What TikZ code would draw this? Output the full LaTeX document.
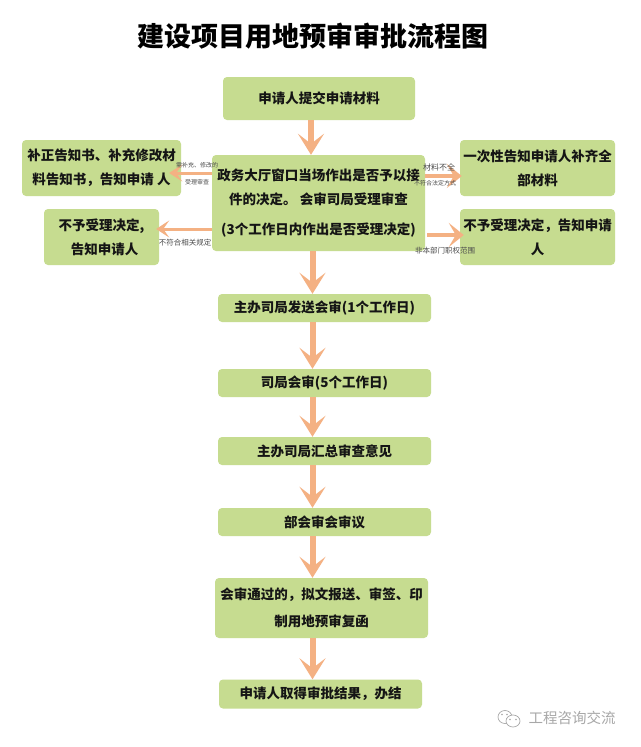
\documentclass[tikz,border=0pt]{standalone}
\usepackage{fontspec}
\setmainfont{Noto Sans CJK SC}
\usetikzlibrary{arrows.meta}
\definecolor{boxgreen}{HTML}{C6DC90}
\definecolor{floworange}{HTML}{F4B183}
\definecolor{inkblack}{HTML}{151515}
\definecolor{markgray}{HTML}{A8A8A8}
\tikzset{
  x=1pt,y=-1pt,
  greenbox/.style={fill=boxgreen,rounded corners=4pt,inner sep=0pt,align=center,text=inkblack,font=\fontsize{13.5}{27}\selectfont\bfseries},
  flow/.style={draw=floworange,line width=6pt,-{Stealth[length=21pt,width=26pt,inset=10pt,fill=floworange]}},
  sideflow/.style={draw=floworange,line width=3pt,-{Stealth[length=13pt,width=17pt,inset=6pt,fill=floworange]}},
  sidebig/.style={draw=floworange,line width=4pt,-{Stealth[length=15pt,width=24pt,inset=7pt,fill=floworange]}},
  tinylabel/.style={text=black!70,inner sep=0pt,font=\fontsize{6}{7}\selectfont},
  smalllabel/.style={text=black!70,inner sep=0pt,font=\fontsize{7.5}{9}\selectfont},
  bar/.style={greenbox,minimum width=213pt,minimum height=28pt},
}
\begin{document}
\begin{tikzpicture}
\useasboundingbox (0,0) rectangle (640,747);
\fill[white] (0,0) rectangle (640,747);
\node[inner sep=0pt,text=black,font=\fontsize{27}{30}\selectfont\bfseries] (title) at (313,36) {建设项目用地预审审批流程图};

\node[greenbox,minimum width=192pt,minimum height=43pt] (top) at (319,98.5) {申请人提交申请材料};
\node[greenbox,minimum width=213pt,minimum height=96pt,font=\fontsize{13.5}{24}\selectfont\bfseries] (main) at (318.5,203) {政务大厅窗口当场作出是否予以接\\件的决定。 会审司局受理审查\\[6pt](3个工作日内作出是否受理决定)};
\node[greenbox,minimum width=159pt,minimum height=56pt,font=\fontsize{13.5}{24}\selectfont\bfseries] (leftA) at (101.5,168) {补正告知书、补充修改材\\料告知书，告知申请 人};
\node[greenbox,minimum width=115pt,minimum height=56pt,font=\fontsize{13.5}{24}\selectfont\bfseries] (leftB) at (101.5,237) {不予受理决定,\\\ \ 告知申请人};
\node[greenbox,minimum width=155pt,minimum height=56pt,font=\fontsize{13.5}{24}\selectfont\bfseries] (rightA) at (537.5,168) {一次性告知申请人补齐全\\部材料};
\node[greenbox,minimum width=155pt,minimum height=56pt,font=\fontsize{13.5}{24}\selectfont\bfseries] (rightB) at (537.5,237) {不予受理决定，告知申请\\人};

\node[bar] (send) at (324.5,308) {主办司局发送会审(1个工作日)};
\node[bar] (review) at (324.5,383) {司局会审(5个工作日)};
\node[bar] (gather) at (324.5,451) {主办司局汇总审查意见};
\node[bar] (meet) at (324.5,522) {部会审会审议};
\node[greenbox,minimum width=213pt,minimum height=60pt,font=\fontsize{13.5}{27}\selectfont\bfseries] (issue) at (321.5,608) {会审通过的，拟文报送、审签、印\\制用地预审复函};
\node[greenbox,minimum width=203pt,minimum height=29pt] (finish) at (320.5,694) {申请人取得审批结果，办结};

\draw[flow] ([xshift=-8pt]top.south) -- ([xshift=-7.5pt]main.north);
\draw[flow] ([xshift=-6pt]main.south) -- ([xshift=-12pt]send.north);
\draw[flow] ([xshift=-12pt]send.south) -- ([xshift=-12pt]review.north);
\draw[flow] ([xshift=-12pt]review.south) -- ([xshift=-12pt]gather.north);
\draw[flow] ([xshift=-12pt]gather.south) -- ([xshift=-12pt]meet.north);
\draw[flow] ([xshift=-12pt]meet.south) -- ([xshift=-9pt]issue.north);
\draw[flow] ([xshift=-9pt]issue.south) -- ([xshift=-8pt]finish.north);

\draw[sideflow] ([yshift=30pt]main.west) -- ([xshift=-12pt,yshift=-5pt]leftA.east);
\draw[sideflow] ([yshift=-26pt]main.west) -- ([xshift=-3pt,yshift=8pt]leftB.east);
\draw[sidebig] ([yshift=27pt]main.east) -- ([xshift=2pt,yshift=-8pt]rightA.west);
\draw[sidebig] ([xshift=2pt,yshift=-32pt]main.east) -- ([xshift=4pt,yshift=2pt]rightB.west);

\node[tinylabel] (lblA) at (197,165) {需补充、修改的};
\node[tinylabel] (lblB) at (197,182) {受理审查};
\node[smalllabel] (lblC) at (185,243) {不符合相关规定};
\node[smalllabel,font=\fontsize{8}{9}\selectfont] (lblD) at (439,167) {材料不全};
\node[tinylabel] (lblE) at (435,183) {不符合法定方式};
\node[smalllabel] (lblF) at (445,251) {非本部门职权范围};

\node[inner sep=0pt,text=markgray,font=\fontsize{14.5}{16}\selectfont] (mark) at (572,718) {工程咨询交流};
\draw[markgray,line width=0.7pt,fill=white] (505,717) ellipse (7pt and 6.5pt);
\draw[markgray,line width=0.7pt,fill=white] (513,721) ellipse (7pt and 6pt);
\fill[markgray] (502,714.5) circle (0.9pt) (507,714.5) circle (0.9pt) (510,719.5) circle (0.9pt) (516,719.5) circle (0.9pt);
\end{tikzpicture}
\end{document}
